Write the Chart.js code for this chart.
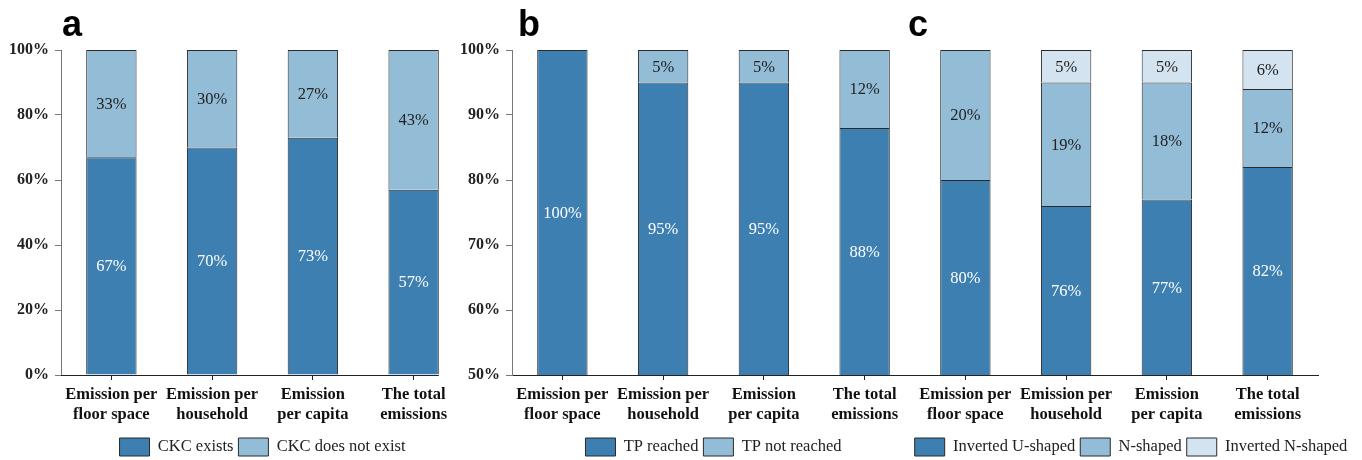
<!DOCTYPE html>
<html>
<head>
<meta charset="utf-8">
<script src="https://cdn.jsdelivr.net/npm/chart.js@4.4.1/dist/chart.umd.min.js"></script>
<style>
  html, body { margin: 0; padding: 0; background: #fff; }
  body { width: 1362px; height: 460px; position: relative; overflow: hidden; }
  canvas { position: absolute; top: 0; }
</style>
</head>
<body>
<canvas id="panelA" width="480" height="466" style="left:0px"></canvas>
<canvas id="panelB" width="485" height="466" style="left:450px"></canvas>
<canvas id="panelC" width="462" height="466" style="left:900px"></canvas>
<script>
// ---- data ----
const categories = [
  ["Emission per", "floor space"],
  ["Emission per", "household"],
  ["Emission", "per capita"],
  ["The total", "emissions"]
];

// a: Carbon Kuznets curve presence
const ckcExists   = [67, 70, 73, 57];
const ckcNotExist = [33, 30, 27, 43];

// b: turning point status
const tpReached    = [100, 95, 95, 88];
const tpNotReached = [0, 5, 5, 12];

// c: curve shape
const invertedU = [80, 76, 77, 82];
const nShaped   = [20, 19, 18, 12];
const invertedN = [0, 5, 5, 6];

// y-axis tick values
const ticksFull = [0, 20, 40, 60, 80, 100];
const ticksUpper = [50, 60, 70, 80, 90, 100];

// ---- styling ----
const DARK = '#3d7fb1';
const LIGHT = '#93bdd6';
const PALE = '#d3e3ef';
const EDGE = '#2a2a2a';
const SERIF = '"Liberation Serif", "Times New Roman", serif';

Chart.defaults.font.family = SERIF;
Chart.defaults.color = '#222';

// Percent labels centred in the visible part of each stacked segment
const segmentLabels = {
  id: 'segmentLabels',
  afterDatasetsDraw(chart) {
    const { ctx, chartArea } = chart;
    ctx.save();
    ctx.font = '16.5px ' + SERIF;
    ctx.textAlign = 'center';
    ctx.textBaseline = 'middle';
    chart.data.datasets.forEach((ds, di) => {
      const meta = chart.getDatasetMeta(di);
      meta.data.forEach((bar, i) => {
        const v = ds.data[i];
        if (!v) return;
        const { x, y, base } = bar.getProps(['x', 'y', 'base'], true);
        const top = Math.max(Math.min(y, base), chartArea.top);
        const bottom = Math.min(Math.max(y, base), chartArea.bottom);
        ctx.fillStyle = ds.labelColor;
        ctx.fillText(v + '%', x, (top + bottom) / 2 + 1);
      });
    });
    ctx.restore();
  }
};

// Bold panel letter above the plot
const panelLetter = {
  id: 'panelLetter',
  afterDraw(chart, args, o) {
    const ctx = chart.ctx;
    ctx.save();
    ctx.font = 'bold 36px "Liberation Sans", Arial, sans-serif';
    ctx.fillStyle = '#000';
    ctx.textBaseline = 'alphabetic';
    ctx.textAlign = 'left';
    ctx.fillText(o.text, chart.chartArea.left + o.dx, 36);
    ctx.restore();
  }
};

// Category axis line that stops at the right edge of the last bar
const shortAxisLine = {
  id: 'shortAxisLine',
  afterDatasetsDraw(chart, args, o) {
    if (!o.enabled) return;
    const { ctx, chartArea } = chart;
    const meta = chart.getDatasetMeta(0);
    const last = meta.data[meta.data.length - 1];
    const right = last.x + last.width / 2;
    const yPix = Math.round(chartArea.bottom) + 0.5;
    ctx.save();
    ctx.strokeStyle = '#222';
    ctx.lineWidth = 1;
    ctx.beginPath();
    ctx.moveTo(chartArea.left, yPix);
    ctx.lineTo(right, yPix);
    ctx.stroke();
    ctx.restore();
  }
};

function dataset(label, data, color, labelColor) {
  return {
    label, data,
    backgroundColor: color,
    borderColor: EDGE,
    borderWidth: 1,
    labelColor,
    categoryPercentage: 1,
    barPercentage: 0.5
  };
}

function xScale(showBorder) {
  return {
    type: 'category',
    stacked: true,
    offset: true,
    grid: { display: true, drawOnChartArea: false, drawTicks: true, tickLength: 5, offset: false, color: '#222' },
    border: { display: showBorder, color: '#222', width: 1 },
    ticks: {
      maxRotation: 0, autoSkip: false, padding: 5, color: '#111',
      font: { size: 16.5, weight: 'bold', lineHeight: 1.212 }
    },
    afterFit(s) { s.height = 58; }
  };
}

function yScale(tickValues, min, yWidth) {
  return {
    type: 'linear',
    stacked: true,
    min, max: 100,
    grid: { display: true, drawOnChartArea: false, drawTicks: true, tickLength: 6, color: '#777' },
    border: { display: true, color: '#777', width: 1 },
    ticks: {
      padding: 6, color: '#222',
      font: { size: 16, weight: 'bold' },
      callback: v => v + '%'
    },
    afterBuildTicks(s) { s.ticks = tickValues.map(v => ({ value: v })); },
    afterFit(s) { s.width = yWidth; }
  };
}

function legendOpts(fullSize) {
  return {
    display: true,
    position: 'bottom',
    fullSize,
    labels: {
      boxWidth: 30, boxHeight: 18, padding: 5, color: '#222',
      font: { size: 16.5, family: SERIF }
    }
  };
}

const common = { responsive: false, animation: false, events: [], devicePixelRatio: 1 };

// ---- panel a ----
new Chart(document.getElementById('panelA'), {
  type: 'bar',
  data: {
    labels: categories,
    datasets: [
      dataset('CKC exists', ckcExists, DARK, '#fff'),
      dataset('CKC does not exist', ckcNotExist, LIGHT, '#222')
    ]
  },
  options: Object.assign({}, common, {
    layout: { padding: { top: 50, right: 16, bottom: 0, left: 0 } },
    scales: { x: xScale(false), y: yScale(ticksFull, 0, 61) },
    plugins: {
      legend: legendOpts(false),
      tooltip: { enabled: false },
      panelLetter: { text: 'a', dx: 1 },
      shortAxisLine: { enabled: true }
    }
  }),
  plugins: [segmentLabels, panelLetter, shortAxisLine]
});

// ---- panel b ----
new Chart(document.getElementById('panelB'), {
  type: 'bar',
  data: {
    labels: categories,
    datasets: [
      dataset('TP reached', tpReached, DARK, '#fff'),
      dataset('TP not reached', tpNotReached, LIGHT, '#222')
    ]
  },
  options: Object.assign({}, common, {
    layout: { padding: { top: 50, right: 20, bottom: 0, left: 0 } },
    scales: { x: xScale(true), y: yScale(ticksUpper, 50, 62) },
    plugins: {
      legend: legendOpts(false),
      tooltip: { enabled: false },
      panelLetter: { text: 'b', dx: 6 },
      shortAxisLine: { enabled: false }
    }
  }),
  plugins: [segmentLabels, panelLetter, shortAxisLine]
});

// ---- panel c (same 50–100% range as b, axis not drawn) ----
const hiddenAxis = (position, width, min) => ({
  type: 'linear',
  position,
  display: true,
  stacked: true,
  min, max: 100,
  grid: { display: false },
  border: { display: false },
  ticks: { display: false },
  afterFit(s) { s.width = width; }
});

new Chart(document.getElementById('panelC'), {
  type: 'bar',
  data: {
    labels: categories,
    datasets: [
      dataset('Inverted U-shaped', invertedU, DARK, '#fff'),
      dataset('N-shaped', nShaped, LIGHT, '#222'),
      dataset('Inverted N-shaped', invertedN, PALE, '#222')
    ]
  },
  options: Object.assign({}, common, {
    layout: { padding: { top: 50, right: 0, bottom: 0, left: 0 } },
    scales: {
      x: xScale(true),
      y: hiddenAxis('left', 15, 50),
      yRight: hiddenAxis('right', 44, 0)
    },
    plugins: {
      legend: legendOpts(true),
      tooltip: { enabled: false },
      panelLetter: { text: 'c', dx: -7 },
      shortAxisLine: { enabled: false }
    }
  }),
  plugins: [segmentLabels, panelLetter, shortAxisLine]
});
</script>
</body>
</html>
